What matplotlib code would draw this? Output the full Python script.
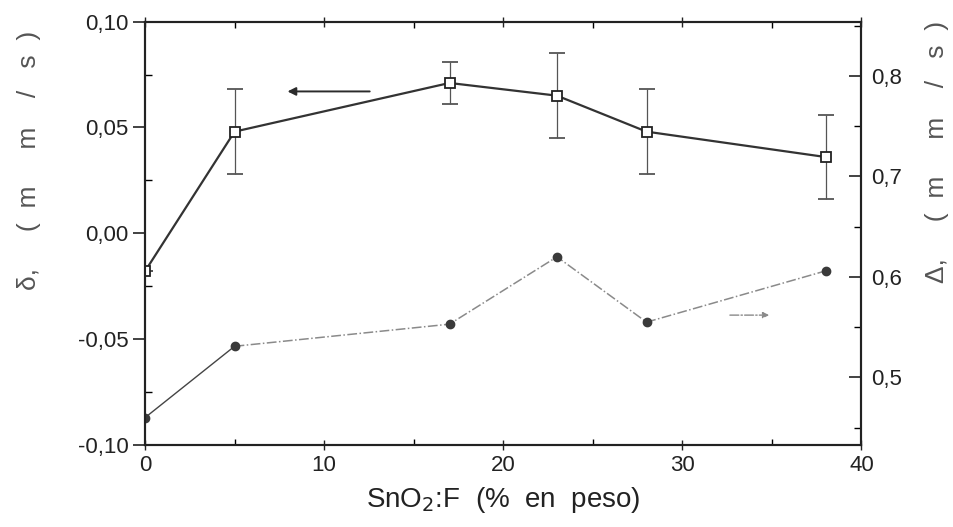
import numpy as np
import matplotlib
matplotlib.use("Agg")
import matplotlib.pyplot as plt
from matplotlib.ticker import MultipleLocator, FuncFormatter

plt.rcParams['font.family'] = ['Liberation Sans', 'DejaVu Sans']

# data
sno2_pct = [0, 5, 17, 23, 28, 38]
delta_small = [-0.018, 0.048, 0.071, 0.065, 0.048, 0.036]   # delta, mm/s (left axis)
delta_err = [0.0, 0.020, 0.010, 0.020, 0.020, 0.020]
delta_big = [0.460, 0.531, 0.553, 0.620, 0.555, 0.606]      # Delta, mm/s (right axis)

left_ticks = [-0.10, -0.05, 0.00, 0.05, 0.10]
right_ticks = [0.5, 0.6, 0.7, 0.8]
x_ticks = [0, 10, 20, 30, 40]


def comma(fmt):
    return FuncFormatter(lambda v, p: (fmt % v).replace('.', ','))


fig = plt.figure(figsize=(9.54, 5.27), dpi=100)
ax = fig.add_axes([0.152, 0.156, 0.751, 0.803])
ax2 = ax.twinx()

dark = '#2b2b2b'
grey = '#8a8a8a'

# square series with error bars (left axis)
ax.errorbar(sno2_pct, delta_small, yerr=delta_err, fmt='s-', color='#333333',
            mfc='white', mec='#222222', mew=1.3, ms=7, lw=1.6,
            ecolor='#555555', elinewidth=0.9, capsize=6, capthick=0.9, zorder=3)

# filled circles (right axis)
ax2.plot(sno2_pct[:2], delta_big[:2], '-', color='#444444', lw=1.0)
ax2.plot(sno2_pct[1:], delta_big[1:], '-.', color=grey, lw=1.1)
ax2.plot(sno2_pct, delta_big, 'o', color='#3a3a3a', ms=6, ls='none')

# direction arrows
ax.annotate('', xy=(7.8, 0.067), xytext=(12.7, 0.067),
            arrowprops=dict(arrowstyle='-|>', color=dark, lw=1.4, mutation_scale=12))
ax2.annotate('', xy=(35.0, 0.562), xytext=(32.5, 0.562),
             arrowprops=dict(arrowstyle='-|>', color=grey, lw=1.0, ls='-.',
                             mutation_scale=9))

ax.set_xlim(0, 40)
ax.set_ylim(-0.10, 0.10)
ax2.set_ylim(0.433, 0.854)

ax.set_xticks(x_ticks)
ax.xaxis.set_minor_locator(MultipleLocator(5))
ax.set_yticks(left_ticks)
ax.yaxis.set_minor_locator(MultipleLocator(0.025))
ax.yaxis.set_major_formatter(comma('%.2f'))
ax2.set_yticks(right_ticks)
ax2.yaxis.set_minor_locator(MultipleLocator(0.05))
ax2.yaxis.set_major_formatter(comma('%.1f'))

ax.tick_params(axis='y', which='major', direction='out', length=9, width=1.2,
               pad=3, labelsize=16, colors='#222222')
ax.tick_params(axis='y', which='minor', direction='in', length=5, width=1.0)
ax.tick_params(axis='x', which='major', direction='inout', length=7, width=1.0,
               pad=4, labelsize=16, top=True, colors='#222222')
ax.tick_params(axis='x', which='minor', direction='in', length=4, width=1.0, top=True)
ax2.tick_params(axis='y', which='major', direction='in', length=9, width=1.2,
                pad=7, labelsize=16, colors='#222222')
ax2.tick_params(axis='y', which='minor', direction='in', length=5, width=1.0)

for a in (ax, ax2):
    for s in a.spines.values():
        s.set_linewidth(1.5)
        s.set_color('#222222')

ax.set_xlabel('SnO$_2$:F  (%  en  peso)', fontsize=20, color='#222222', labelpad=6)

# axis titles sit above the middle of the axes in the reference
fig.text(0.030, 0.695, 'δ,     (  m     m    /   s  )', rotation=90, fontsize=19,
         color='#555555', ha='center', va='center')
fig.text(0.982, 0.712, 'Δ,     (  m     m    /   s  )', rotation=90, fontsize=19,
         color='#555555', ha='center', va='center')

fig.savefig('out.png', dpi=100)
